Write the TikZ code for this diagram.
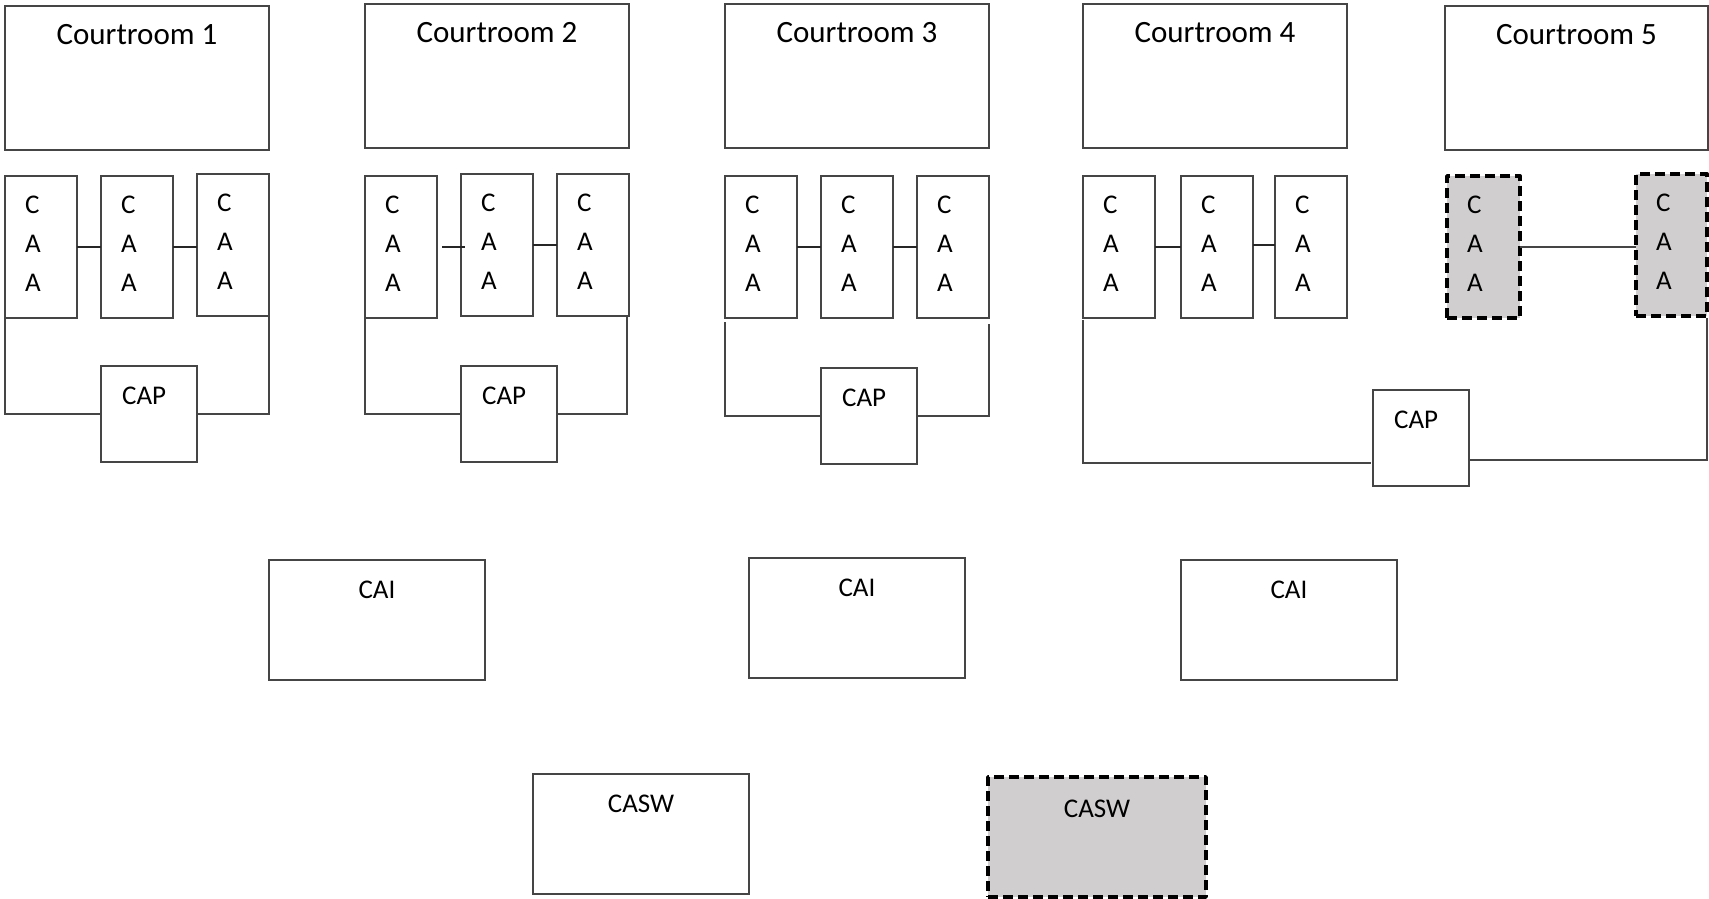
\documentclass[tikz,border=0pt]{standalone}
\usepackage{fontspec}
\setmainfont{Carlito}
\definecolor{ln}{HTML}{454545}
\definecolor{shade}{HTML}{D0CECE}
\tikzset{
  box/.style={draw=ln, line width=1.8pt, fill=white, inner sep=0pt, outer sep=0pt, anchor=north west},
  dbox/.style={draw=black, line width=3.8pt, fill=shade, dash pattern=on 10pt off 5pt, line join=round, inner sep=0pt, outer sep=0pt, anchor=north west},
  link/.style={draw=black!85, line width=1.3pt},
  bracket/.style={draw=ln, line width=1.8pt},
  cttxt/.style={font=\fontsize{31}{37}\selectfont, inner sep=0pt, anchor=base},
  smtxt/.style={font=\fontsize{27}{33}\selectfont, inner sep=0pt},
  caatxt/.style={font=\fontsize{27}{39}\selectfont, inner sep=0pt, align=left, anchor=base west},
}
\newcommand\bx[6]{\node[#2, minimum width={#5-#3}, minimum height={#6-#4}] (#1) at (#3,#4) {};}
\newcommand\caalab[1]{\node[caatxt] (#1t) at ([xshift=20pt,yshift=-115pt]#1.north west) {C\\A\\A};}
\begin{document}
\begin{tikzpicture}[x=1pt,y=-1pt]
\useasboundingbox (0,0) rectangle (1709,899);
% courtrooms
\bx{ct1}{box}{5}{6}{269}{150}
\bx{ct2}{box}{365}{4}{629}{148}
\bx{ct3}{box}{725}{4}{989}{148}
\bx{ct4}{box}{1083}{4}{1347}{148}
\bx{ct5}{box}{1445}{6}{1708}{150}
\foreach \i in {1,...,5}{
  \node[cttxt] (ct\i t) at ([yshift=-39pt]ct\i.north) {Courtroom \i};
}
% CAA boxes
\bx{a11}{box}{5}{176}{77}{318}
\bx{a12}{box}{101}{176}{173}{318}
\bx{a13}{box}{197}{174}{269}{316}
\bx{a21}{box}{365}{176}{437}{318}
\bx{a22}{box}{461}{174}{533}{316}
\bx{a23}{box}{557}{174}{629}{316}
\bx{a31}{box}{725}{176}{797}{318}
\bx{a32}{box}{821}{176}{893}{318}
\bx{a33}{box}{917}{176}{989}{318}
\bx{a41}{box}{1083}{176}{1155}{318}
\bx{a42}{box}{1181}{176}{1253}{318}
\bx{a43}{box}{1275}{176}{1347}{318}
\bx{a51}{dbox}{1447}{176}{1520}{318}
\bx{a52}{dbox}{1636}{174}{1707}{316}
\foreach \n in {a11,a12,a13,a21,a22,a23,a31,a32,a33,a41,a42,a43,a51,a52}{\caalab{\n}}
% CAP boxes
\bx{p1}{box}{101}{366}{197}{462}
\bx{p2}{box}{461}{366}{557}{462}
\bx{p3}{box}{821}{368}{917}{464}
\bx{p4}{box}{1373}{390}{1469}{486}
\foreach \n in {p1,p2,p3,p4}{
  \node[smtxt, anchor=base west] (\n t) at ([xshift=21pt,yshift=-38pt]\n.north west) {CAP};
}
% CAI boxes
\bx{i1}{box}{269}{560}{485}{680}
\bx{i2}{box}{749}{558}{965}{678}
\bx{i3}{box}{1181}{560}{1397}{680}
\foreach \n in {i1,i2,i3}{
  \node[smtxt, anchor=base] (\n t) at ([yshift=-38pt]\n.north) {CAI};
}
% CASW boxes
\bx{w1}{box}{533}{774}{749}{894}
\bx{w2}{dbox}{988}{777}{1206}{897}
\node[smtxt, anchor=base] (w1t) at ([yshift=-38pt]w1.north) {CASW};
\node[smtxt, anchor=base] (w2t) at ([yshift=-40pt]w2.north) {CASW};
% links between CAA boxes
\draw[link] (a11.east) -- (a11.east -| a12.west);
\draw[link] (a12.east) -- (a12.east -| a13.west);
\draw[link] ([xshift=5pt]a21.east) -- ([xshift=4pt]a21.east -| a22.west);
\draw[link] (a22.east) -- (a22.east -| a23.west);
\draw[link] (a31.east) -- (a31.east -| a32.west);
\draw[link] (a32.east) -- (a32.east -| a33.west);
\draw[link] (a41.east) -- (a41.east -| a42.west);
\draw[link] ([yshift=2pt]a42.east) -- ([yshift=2pt]a42.east -| a43.west);
\draw[link, draw=ln] (a51.east) -- (a51.east -| a52.west);
% brackets to CAP
\draw[bracket] (a11.south west) |- (p1.west);
\draw[bracket] (a13.south east) |- (p1.east);
\draw[bracket] (a21.south west) |- (p2.west);
\draw[bracket] ([xshift=-2pt]a23.south east) |- (p2.east);
\draw[bracket] ([yshift=-4pt]a31.south west) |- (p3.west);
\draw[bracket] ([yshift=-6pt]a33.south east) |- (p3.east);
\draw[bracket] ([yshift=-2pt]a41.south west) |- ([xshift=-2pt,yshift=-25pt]p4.west);
\draw[bracket] ([yshift=-22pt]p4.east) -| ([yshift=-2pt]a52.south east);
\end{tikzpicture}
\end{document}
